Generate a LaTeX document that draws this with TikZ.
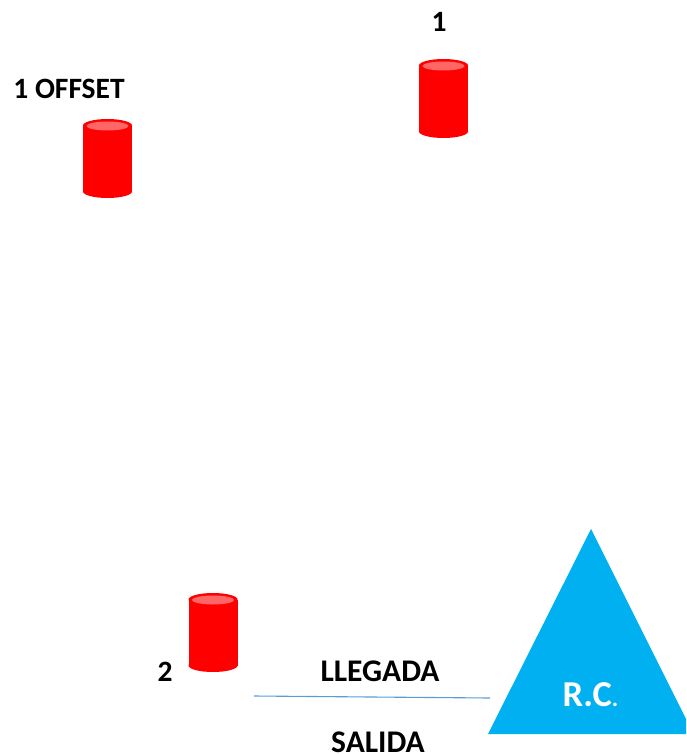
\documentclass[tikz,border=0pt]{standalone}
\usepackage{fontspec}
\setmainfont{Carlito}
\definecolor{cylred}{RGB}{255,0,0}
\definecolor{cyltop}{RGB}{255,102,102}
\definecolor{rcblue}{RGB}{0,176,240}
\definecolor{linkblue}{RGB}{91,155,213}
\tikzset{
  lab/.style={font=\bfseries\fontsize{29.5}{30}\selectfont,text=black,inner sep=0pt,anchor=center},
  biglab/.style={lab,font=\bfseries\fontsize{31.5}{32}\selectfont},
  rclab/.style={lab,text=white,font=\bfseries\fontsize{36.5}{37}\selectfont},
}
\newcommand{\cyl}[2]{%
  \fill[cylred] (#1-24.5,#2-33) rectangle (#1+24.5,#2+33);
  \fill[cylred] (#1,#2-33) ellipse[x radius=24.5,y radius=6.5];
  \fill[cylred] (#1,#2+33) ellipse[x radius=24.5,y radius=6.5];
  \fill[cyltop] (#1,#2-32.5) ellipse[x radius=21,y radius=4.5];
}
\begin{document}
\begin{tikzpicture}[x=1pt,y=-1pt]
\useasboundingbox (0,0) rectangle (686,755);
\cyl{107.5}{158.5}
\cyl{443.5}{98.5}
\cyl{213}{632.5}
\begin{scope}
\clip (0,0) rectangle (686,755);
\fill[rcblue] (591,529) -- (693.5,734) -- (488,734) -- cycle;
\end{scope}
\coordinate (a) at (254,696);
\coordinate (b) at (490,698);
\draw[linkblue,line width=1.1pt] (a) -- (b);
\node[lab] (n1) at (439,22) {1};
\node[lab] (n1o) at (69,89) {1 OFFSET};
\node[lab] (n2) at (165,672) {2};
\node[biglab] (ll) at (380,671) {LLEGADA};
\node[biglab] (sa) at (378,742) {SALIDA};
\node[rclab] (rc) at (590.5,695) {R.C\fontsize{24}{24}\selectfont.};
\end{tikzpicture}
\end{document}
